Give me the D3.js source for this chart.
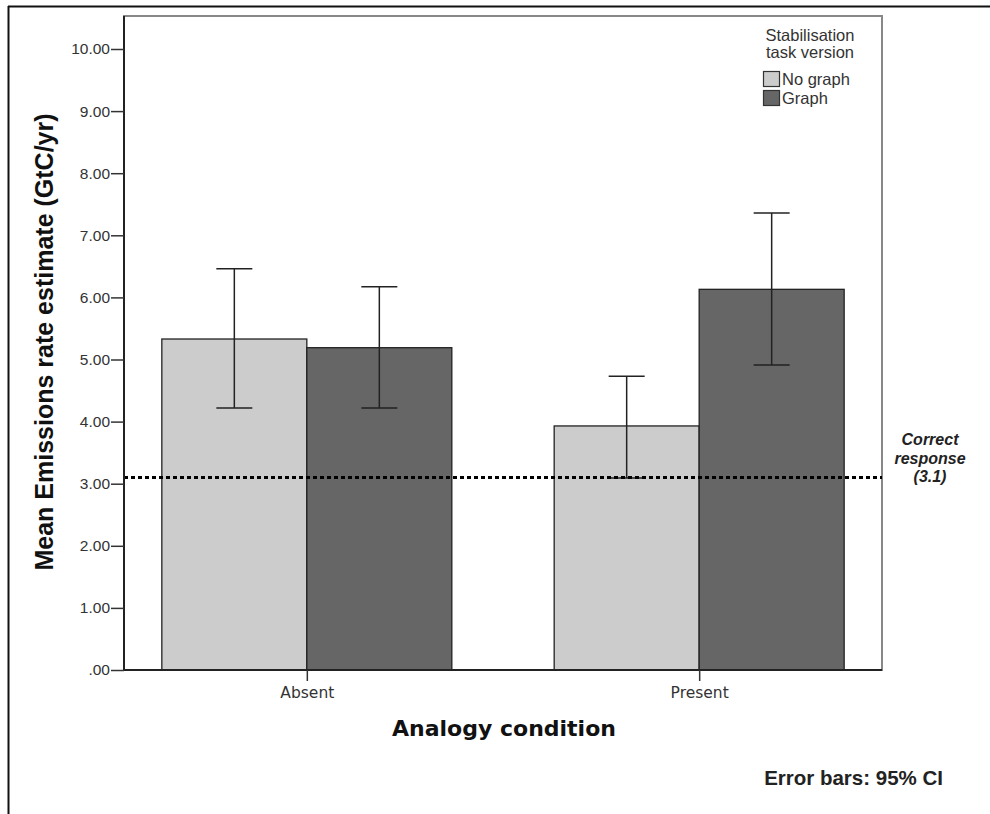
<!DOCTYPE html>
<html>
<head>
<meta charset="utf-8">
<script src="https://cdn.jsdelivr.net/npm/d3@7"></script>
<style>
  body { margin: 0; background: #fff; }
  svg { display: block; }
</style>
</head>
<body>
<div id="chart"></div>
<script>
/* DATA */
const conditions = ["Absent", "Present"];
const versions = ["No graph", "Graph"];
const means = [[5.33, 5.19], [3.93, 6.13]];
const ciLow = [[4.22, 4.22], [3.09, 4.91]];
const ciHigh = [[6.46, 6.17], [4.73, 7.36]];
const yTicks = [0, 1, 2, 3, 4, 5, 6, 7, 8, 9, 10];
const correctValue = 3.1;

const width = 990, height = 814;
const plot = { left: 124, right: 882, top: 16, bottom: 670 };
const colors = { "No graph": "#cccccc", "Graph": "#666666" };
const sans = "Liberation Sans, Arial, sans-serif";

const svg = d3.select("#chart").append("svg")
  .attr("width", width)
  .attr("height", height);

// outer frame (only top and left show)
svg.append("line").attr("x1", 8).attr("x2", width).attr("y1", 6.5).attr("y2", 6.5)
  .attr("stroke", "#111").attr("stroke-width", 2);
svg.append("line").attr("x1", 8.5).attr("x2", 8.5).attr("y1", 6).attr("y2", height)
  .attr("stroke", "#111").attr("stroke-width", 2);

// scales
const y = d3.scaleLinear().domain([0, 10.0]).range([plot.bottom, 49]);
const x0 = d3.scalePoint().domain(conditions).range([plot.left, plot.right]).padding(0.466);
const x1 = d3.scaleBand().domain(versions).range([-145, 145]);

// plot frame
svg.append("rect")
  .attr("x", plot.left).attr("y", plot.top)
  .attr("width", plot.right - plot.left).attr("height", plot.bottom - plot.top)
  .attr("fill", "none").attr("stroke", "#888").attr("stroke-width", 2);

// bars
const rows = [];
conditions.forEach((c, i) => versions.forEach((v, j) => {
  rows.push({ c, v, mean: means[i][j], lo: ciLow[i][j], hi: ciHigh[i][j] });
}));

svg.append("g").selectAll("rect")
  .data(rows)
  .join("rect")
  .attr("x", d => x0(d.c) + x1(d.v))
  .attr("y", d => y(d.mean))
  .attr("width", x1.bandwidth())
  .attr("height", d => y(0) - y(d.mean))
  .attr("fill", d => colors[d.v])
  .attr("stroke", "#222")
  .attr("stroke-width", 1.3);

// error bars
const eb = svg.append("g").attr("stroke", "#222").attr("stroke-width", 1.5);
rows.forEach(d => {
  const cx = x0(d.c) + x1(d.v) + x1.bandwidth() / 2;
  eb.append("line").attr("x1", cx).attr("x2", cx).attr("y1", y(d.hi)).attr("y2", y(d.lo));
  eb.append("line").attr("x1", cx - 18).attr("x2", cx + 18).attr("y1", y(d.hi)).attr("y2", y(d.hi));
  eb.append("line").attr("x1", cx - 18).attr("x2", cx + 18).attr("y1", y(d.lo)).attr("y2", y(d.lo));
});

// reference line
svg.append("line")
  .attr("x1", plot.left).attr("x2", plot.right)
  .attr("y1", y(correctValue)).attr("y2", y(correctValue))
  .attr("stroke", "#000").attr("stroke-width", 3)
  .attr("stroke-dasharray", "4,3");

const corr = svg.append("text")
  .attr("x", 930).attr("y", 445)
  .attr("text-anchor", "middle")
  .attr("font-family", sans)
  .attr("font-size", 16).attr("font-weight", "bold").attr("font-style", "italic")
  .attr("fill", "#222");
["Correct", "response", "(3.1)"].forEach((t, i) => {
  corr.append("tspan").attr("x", 930).attr("dy", i ? 18.5 : 0).text(t);
});

// axes
const yAxis = d3.axisLeft(y).tickValues(yTicks).tickSize(13).tickPadding(1)
  .tickFormat(d => d3.format(".2f")(d).replace(/^0/, ""));
const gy = svg.append("g").attr("transform", `translate(${plot.left},0)`).call(yAxis);
gy.select(".domain").attr("stroke", "#222").attr("stroke-width", 2)
  .attr("d", `M0,${plot.top}V${plot.bottom}`);
gy.selectAll(".tick line").attr("stroke", "#333").attr("stroke-width", 1.5);
gy.selectAll(".tick text")
  .attr("font-family", sans)
  .attr("font-size", 15.5).attr("fill", "#333");

const xAxis = d3.axisBottom(x0).tickSize(11).tickPadding(6);
const gx = svg.append("g").attr("transform", `translate(0,${plot.bottom})`).call(xAxis);
gx.select(".domain").attr("stroke", "#222").attr("stroke-width", 2)
  .attr("d", `M${plot.left},0H${plot.right}`);
gx.selectAll(".tick line").attr("stroke", "#333").attr("stroke-width", 1.5);
gx.selectAll(".tick text")
  .attr("font-family", "DejaVu Sans, sans-serif")
  .attr("font-size", 15.5).attr("fill", "#333");

// axis titles
svg.append("text")
  .attr("transform", `translate(53,342) rotate(-90)`)
  .attr("text-anchor", "middle")
  .attr("font-family", sans)
  .attr("font-size", 25).attr("font-weight", "bold").attr("fill", "#111")
  .text("Mean Emissions rate estimate (GtC/yr)");

svg.append("text")
  .attr("x", 504).attr("y", 736)
  .attr("text-anchor", "middle")
  .attr("font-family", "DejaVu Sans, sans-serif")
  .attr("font-size", 22).attr("font-weight", "bold").attr("fill", "#111")
  .text("Analogy condition");

// legend
const lg = svg.append("g").attr("font-family", sans).attr("font-size", 16.5).attr("fill", "#333");
lg.append("text").attr("x", 810).attr("y", 41).attr("text-anchor", "middle").text("Stabilisation");
lg.append("text").attr("x", 810).attr("y", 58).attr("text-anchor", "middle").text("task version");
versions.forEach((v, i) => {
  lg.append("rect").attr("x", 763.5).attr("y", 71.5 + i * 19).attr("width", 16).attr("height", 15)
    .attr("fill", colors[v]).attr("stroke", "#333").attr("stroke-width", 1.2);
  lg.append("text").attr("x", 782).attr("y", 85 + i * 18.5).text(v);
});

// footnote
svg.append("text")
  .attr("x", 943).attr("y", 785).attr("text-anchor", "end")
  .attr("font-family", sans)
  .attr("font-size", 20.5).attr("font-weight", "bold").attr("fill", "#222")
  .text("Error bars: 95% CI");
</script>
</body>
</html>
